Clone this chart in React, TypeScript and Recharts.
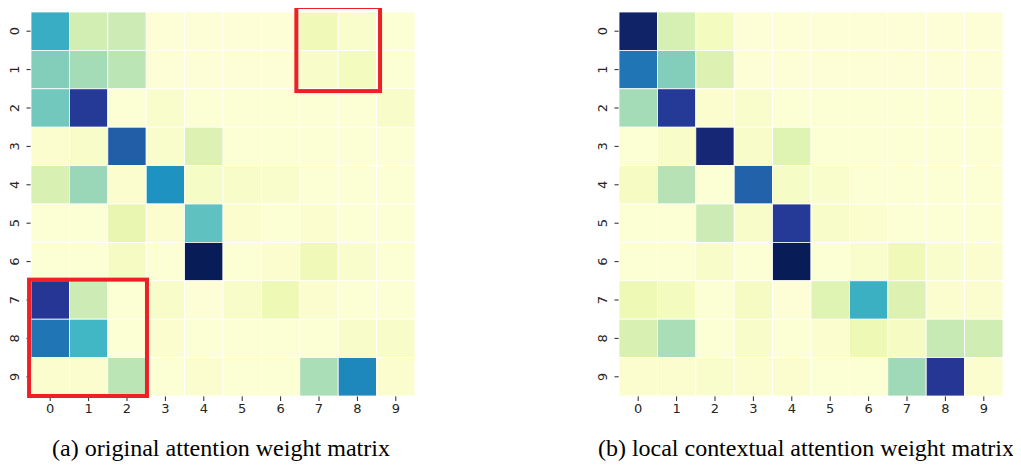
import React from "react";
import { ScatterChart, Scatter, XAxis, YAxis } from "recharts";

const indices = [0, 1, 2, 3, 4, 5, 6, 7, 8, 9];
const tickLabels = ["0", "1", "2", "3", "4", "5", "6", "7", "8", "9"];

// (a) original attention weight matrix (rows = y index, cols = x index), colormap position 0..1
const originalMatrix = [
  [0.53, 0.21, 0.23, 0.01, 0.01, 0.01, 0.01, 0.10, 0.04, 0.02],
  [0.37, 0.31, 0.27, 0.01, 0.01, 0.01, 0.01, 0.05, 0.08, 0.02],
  [0.40, 0.86, 0.02, 0.04, 0.02, 0.02, 0.02, 0.02, 0.02, 0.05],
  [0.03, 0.05, 0.75, 0.04, 0.18, 0.02, 0.02, 0.02, 0.02, 0.02],
  [0.19, 0.33, 0.03, 0.62, 0.06, 0.05, 0.04, 0.02, 0.02, 0.02],
  [0.02, 0.02, 0.14, 0.03, 0.44, 0.03, 0.02, 0.03, 0.02, 0.02],
  [0.02, 0.02, 0.07, 0.02, 1.00, 0.02, 0.03, 0.10, 0.04, 0.02],
  [0.87, 0.23, 0.02, 0.05, 0.01, 0.05, 0.11, 0.03, 0.02, 0.02],
  [0.69, 0.50, 0.02, 0.03, 0.02, 0.02, 0.02, 0.02, 0.05, 0.05],
  [0.03, 0.03, 0.27, 0.02, 0.03, 0.02, 0.02, 0.30, 0.65, 0.03],
];

// (b) local contextual attention weight matrix
const localMatrix = [
  [0.97, 0.20, 0.08, 0.01, 0.01, 0.01, 0.01, 0.01, 0.01, 0.01],
  [0.69, 0.37, 0.18, 0.01, 0.01, 0.01, 0.01, 0.01, 0.01, 0.01],
  [0.31, 0.86, 0.03, 0.04, 0.02, 0.02, 0.02, 0.02, 0.02, 0.02],
  [0.02, 0.05, 0.94, 0.05, 0.17, 0.02, 0.02, 0.02, 0.02, 0.02],
  [0.07, 0.28, 0.02, 0.74, 0.06, 0.04, 0.02, 0.02, 0.02, 0.02],
  [0.02, 0.02, 0.23, 0.05, 0.86, 0.05, 0.03, 0.02, 0.02, 0.02],
  [0.02, 0.02, 0.05, 0.02, 1.00, 0.02, 0.04, 0.10, 0.04, 0.03],
  [0.11, 0.08, 0.02, 0.07, 0.01, 0.17, 0.52, 0.18, 0.03, 0.03],
  [0.19, 0.30, 0.02, 0.05, 0.02, 0.03, 0.11, 0.07, 0.25, 0.22],
  [0.03, 0.03, 0.04, 0.03, 0.03, 0.02, 0.02, 0.32, 0.87, 0.03],
];

// highlight boxes on (a), in data units: [x1, x2, y1, y2]
const originalBoxes = [
  [6.41, 8.59, -0.63, 1.56],
  [-0.55, 2.52, 6.47, 9.5],
];

const captions = [
  "(a) original attention weight matrix",
  "(b) local contextual attention weight matrix",
];

// YlGnBu colormap stops
const YLGNBU = [
  "#ffffd9", "#edf8b1", "#c7e9b4", "#7fcdbb", "#41b6c4",
  "#1d91c0", "#225ea8", "#253494", "#081d58",
];

function hexToRgb(h: string) {
  return [parseInt(h.slice(1, 3), 16), parseInt(h.slice(3, 5), 16), parseInt(h.slice(5, 7), 16)];
}

function colorFor(v: number) {
  const t = Math.max(0, Math.min(1, v)) * (YLGNBU.length - 1);
  const i = Math.min(Math.floor(t), YLGNBU.length - 2);
  const f = t - i;
  const a = hexToRgb(YLGNBU[i]);
  const b = hexToRgb(YLGNBU[i + 1]);
  const c = a.map((av, k) => Math.round(av + (b[k] - av) * f));
  return `rgb(${c[0]},${c[1]},${c[2]})`;
}

function toPoints(m: number[][]) {
  const pts: { x: number; y: number; v: number }[] = [];
  m.forEach((row, r) => row.forEach((v, c) => pts.push({ x: indices[c], y: indices[r], v })));
  return pts;
}

function toBoxPoints(boxes: number[][]) {
  return boxes.map((b) => ({
    x: (b[0] + b[1]) / 2,
    y: (b[2] + b[3]) / 2,
    w: b[1] - b[0],
    h: b[3] - b[2],
  }));
}

const PLOT = 384;
const CELL = PLOT / 10;
const TEXT_COLOR = "#262626";
const FONT = "'DejaVu Sans', sans-serif";
const SERIF = '"Liberation Serif", "Times New Roman", Times, serif';

const CellShape = (props: any) => {
  const { cx, cy, payload } = props;
  if (cx == null || cy == null) return null;
  return (
    <rect
      x={cx - CELL / 2}
      y={cy - CELL / 2}
      width={CELL}
      height={CELL}
      fill={colorFor(payload.v)}
      stroke="#ffffff"
      strokeWidth={0.8}
    />
  );
};

const BoxShape = (props: any) => {
  const { cx, cy, payload } = props;
  if (cx == null || cy == null) return null;
  const w = payload.w * CELL;
  const h = payload.h * CELL;
  return (
    <rect
      x={cx - w / 2}
      y={cy - h / 2}
      width={w}
      height={h}
      fill="none"
      stroke="#ee1f26"
      strokeWidth={4}
    />
  );
};

const XTick = (props: any) => {
  const { x, y, payload } = props;
  return (
    <text x={x} y={y + 9.5} textAnchor="middle" fontFamily={FONT} fontSize={13} fill={TEXT_COLOR}>
      {tickLabels[payload.value]}
    </text>
  );
};

const YTick = (props: any) => {
  const { x, y, payload } = props;
  return (
    <text
      x={x}
      y={y}
      transform={`rotate(-90 ${x} ${y})`}
      textAnchor="middle"
      fontFamily={FONT}
      fontSize={13}
      fill={TEXT_COLOR}
    >
      {tickLabels[payload.value]}
    </text>
  );
};

function Heatmap({ matrix, boxes }: { matrix: number[][]; boxes: number[][] }) {
  const data = toPoints(matrix);
  const boxData = toBoxPoints(boxes);
  return (
    <ScatterChart width={412} height={413} margin={{ top: 4, right: 5, bottom: 0, left: 0 }}>
      <XAxis
        type="number"
        dataKey="x"
        domain={[-0.5, 9.5]}
        ticks={indices}
        interval={0}
        axisLine={false}
        tickSize={5}
        tickMargin={2}
        tickLine={{ stroke: TEXT_COLOR, strokeWidth: 1 }}
        tick={<XTick />}
        height={25}
      />
      <YAxis
        type="number"
        dataKey="y"
        domain={[-0.5, 9.5]}
        reversed
        ticks={indices}
        interval={0}
        axisLine={false}
        tickSize={4.5}
        tickMargin={7.5}
        tickLine={{ stroke: TEXT_COLOR, strokeWidth: 1 }}
        tick={<YTick />}
        width={23}
      />
      <Scatter data={data} shape={<CellShape />} isAnimationActive={false} />
      {boxData.length > 0 && (
        <Scatter data={boxData} shape={<BoxShape />} isAnimationActive={false} />
      )}
    </ScatterChart>
  );
}

export default function App() {
  return (
    <div style={{ position: "relative", width: 1013, height: 462, background: "#ffffff" }}>
      <div style={{ position: "absolute", left: 0, top: 0 }}>
        <Heatmap matrix={originalMatrix} boxes={originalBoxes} />
      </div>
      <div style={{ position: "absolute", left: 588, top: 0 }}>
        <Heatmap matrix={localMatrix} boxes={[]} />
      </div>
      <svg
        width={1013}
        height={462}
        style={{ position: "absolute", left: 0, top: 0, pointerEvents: "none" }}
      >
        <text
          x={44}
          y={448}
          style={{ fontFamily: SERIF, fontSize: 24 }}
          fill="#000"
          textLength={338}
          lengthAdjust="spacingAndGlyphs"
        >
          {captions[0]}
        </text>
        <text
          x={590}
          y={448}
          style={{ fontFamily: SERIF, fontSize: 24 }}
          fill="#000"
          textLength={416}
          lengthAdjust="spacingAndGlyphs"
        >
          {captions[1]}
        </text>
      </svg>
    </div>
  );
}
